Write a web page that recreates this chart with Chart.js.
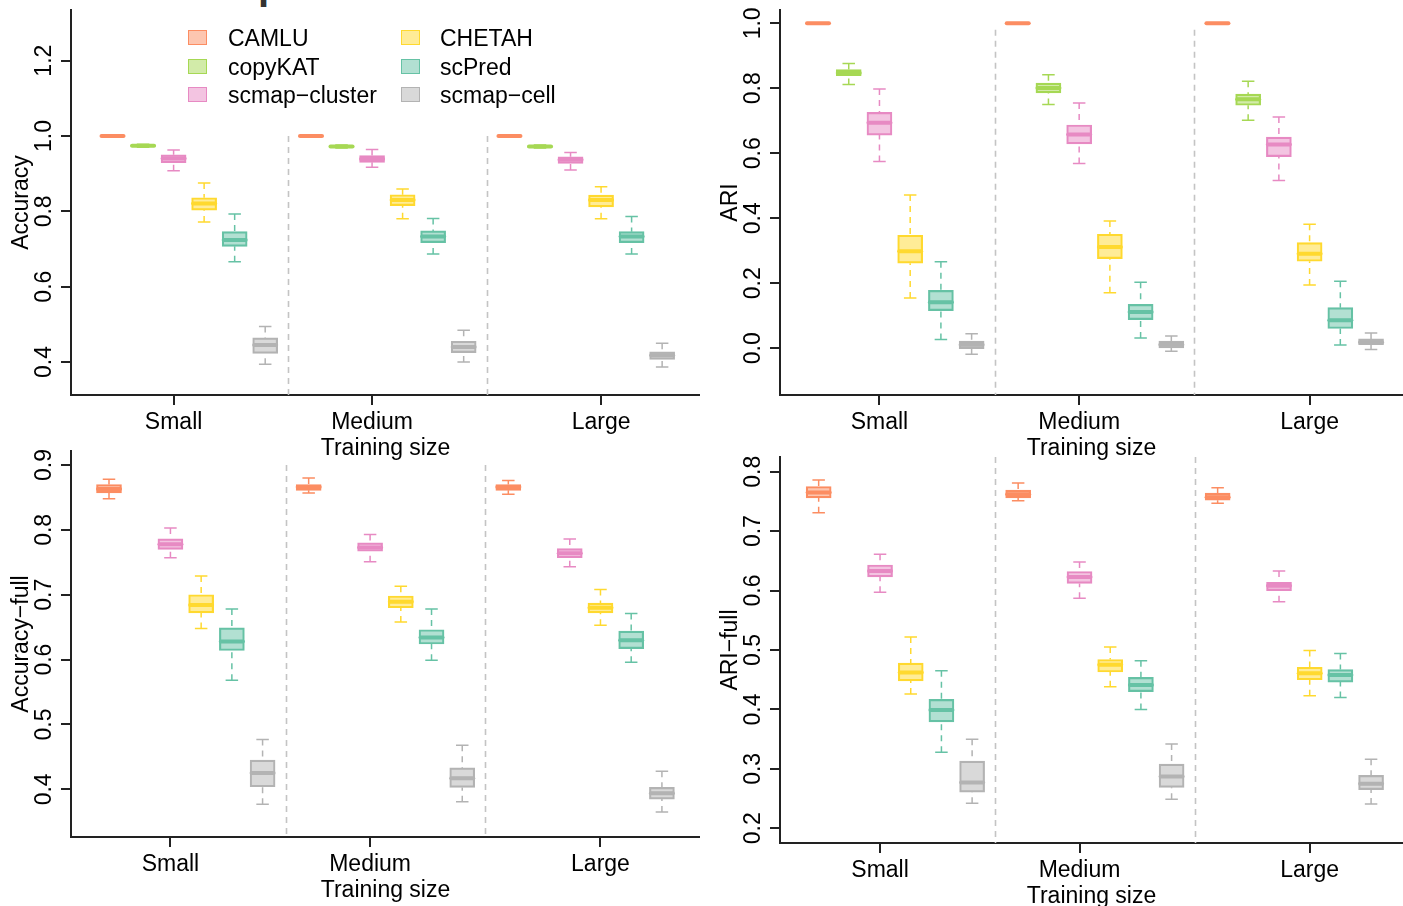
<!DOCTYPE html>
<html>
<head>
<meta charset="utf-8">
<script src="https://cdn.jsdelivr.net/npm/chart.js@4.4.1/dist/chart.umd.min.js"></script>
<style>
  html, body { margin:0; padding:0; background:#fff; overflow:hidden; width:1403px; height:906px; }
  canvas { position:absolute; }
  .lg { position:absolute; font-family:'Liberation Sans', Arial, sans-serif; font-size:23px; color:#000; line-height:28px; white-space:nowrap; }
  .sq { position:absolute; width:19px; height:15px; box-sizing:border-box; border:1.5px solid; }
  .cut { position:absolute; left:258px; top:-35px; font-family:'Liberation Sans', Arial, sans-serif; font-weight:bold; font-size:40px; line-height:40px; color:#333; }
</style>
</head>
<body>
<div class="cut">p</div>
<canvas id="c1" width="700" height="462" style="left:0px;top:0px"></canvas>
<canvas id="c2" width="694" height="462" style="left:709px;top:0px"></canvas>
<canvas id="c3" width="700" height="463" style="left:0px;top:441px"></canvas>
<canvas id="c4" width="694" height="463" style="left:709px;top:447px"></canvas>
<div id="legend"></div>
<script>
// ---------- categories ----------
const methods = ['CAMLU', 'copyKAT', 'scmap-cluster', 'CHETAH', 'scPred', 'scmap-cell'];
const sizes = ['Small', 'Medium', 'Large'];
const methodColors = ['#FC8D62', '#A6D854', '#E78AC3', '#FFD92F', '#66C2A5', '#B3B3B3'];

// ---------- tick labels ----------
const accTicks = [0.4, 0.6, 0.8, 1.0, 1.2];
const ariTicks = [0.0, 0.2, 0.4, 0.6, 0.8, 1.0];
const accFullTicks = [0.4, 0.5, 0.6, 0.7, 0.8, 0.9];
const ariFullTicks = [0.2, 0.3, 0.4, 0.5, 0.6, 0.7, 0.8];

// ---------- data: each row = [min, q1, median, q3, max] for Small, Medium, Large ----------
// Accuracy
const acc_CAMLU   = [[0.998,0.999,1.000,1.000,1.000],[0.998,0.999,1.000,1.000,1.000],[0.998,0.999,1.000,1.000,1.000]];
const acc_copyKAT = [[0.970,0.972,0.974,0.976,0.978],[0.968,0.970,0.972,0.974,0.976],[0.968,0.970,0.972,0.974,0.976]];
const acc_scmapCluster = [[0.908,0.929,0.940,0.950,0.963],[0.917,0.930,0.939,0.948,0.964],[0.910,0.927,0.937,0.945,0.956]];
const acc_CHETAH  = [[0.772,0.803,0.821,0.836,0.875],[0.780,0.815,0.830,0.844,0.859],[0.780,0.812,0.830,0.843,0.865]];
const acc_scPred  = [[0.666,0.707,0.724,0.746,0.793],[0.687,0.717,0.733,0.748,0.781],[0.687,0.717,0.733,0.746,0.786]];
const acc_scmapCell = [[0.394,0.423,0.445,0.464,0.494],[0.400,0.425,0.440,0.455,0.484],[0.387,0.407,0.418,0.427,0.450]];
// ARI
const ari_CAMLU   = [[0.998,0.999,1.000,1.000,1.000],[0.998,0.999,1.000,1.000,1.000],[0.998,0.999,1.000,1.000,1.000]];
const ari_copyKAT = [[0.812,0.839,0.847,0.858,0.876],[0.750,0.786,0.801,0.816,0.842],[0.702,0.748,0.766,0.782,0.822]];
const ari_scmapCluster = [[0.575,0.656,0.694,0.726,0.798],[0.569,0.629,0.658,0.687,0.755],[0.516,0.590,0.627,0.650,0.712]];
const ari_CHETAH  = [[0.155,0.262,0.299,0.348,0.472],[0.171,0.276,0.312,0.351,0.392],[0.195,0.268,0.291,0.325,0.382]];
const ari_scPred  = [[0.027,0.116,0.142,0.178,0.266],[0.032,0.088,0.112,0.135,0.203],[0.010,0.061,0.086,0.125,0.206]];
const ari_scmapCell = [[-0.018,-0.001,0.011,0.022,0.045],[-0.009,0.001,0.011,0.022,0.038],[-0.004,0.011,0.019,0.029,0.047]];
// Accuracy-full
const accFull_CAMLU  = [[0.848,0.857,0.863,0.870,0.878],[0.857,0.861,0.866,0.870,0.880],[0.855,0.861,0.866,0.870,0.876]];
const accFull_scmapCluster = [[0.757,0.770,0.778,0.786,0.803],[0.751,0.767,0.773,0.780,0.793],[0.743,0.757,0.764,0.771,0.786]];
const accFull_CHETAH = [[0.648,0.672,0.684,0.700,0.729],[0.658,0.680,0.689,0.698,0.713],[0.653,0.672,0.680,0.687,0.708]];
const accFull_scPred = [[0.568,0.614,0.628,0.649,0.678],[0.599,0.624,0.634,0.646,0.678],[0.596,0.617,0.630,0.644,0.671]];
const accFull_scmapCell = [[0.377,0.404,0.425,0.445,0.477],[0.381,0.403,0.417,0.433,0.468],[0.365,0.385,0.394,0.403,0.428]];
// ARI-full
const ariFull_CAMLU  = [[0.731,0.756,0.765,0.775,0.786],[0.751,0.756,0.762,0.769,0.781],[0.747,0.752,0.757,0.764,0.773]];
const ariFull_scmapCluster = [[0.597,0.623,0.633,0.643,0.661],[0.587,0.612,0.623,0.632,0.648],[0.581,0.600,0.608,0.614,0.633]];
const ariFull_CHETAH = [[0.426,0.448,0.462,0.478,0.522],[0.438,0.463,0.475,0.484,0.505],[0.423,0.450,0.461,0.471,0.499]];
const ariFull_scPred = [[0.328,0.379,0.399,0.417,0.465],[0.400,0.430,0.441,0.454,0.482],[0.420,0.446,0.458,0.467,0.494]];
const ariFull_scmapCell = [[0.242,0.261,0.277,0.313,0.350],[0.249,0.269,0.287,0.308,0.342],[0.241,0.265,0.275,0.289,0.316]];

// ---------- helpers ----------
const FONT = "'Liberation Sans', Arial, sans-serif";
Chart.defaults.font.family = FONT;
Chart.defaults.color = '#000';

function rgba(hex, a) {
  const n = parseInt(hex.slice(1), 16);
  return `rgba(${(n >> 16) & 255},${(n >> 8) & 255},${n & 255},${a})`;
}
const groupStep = 6.5;
function boxPos(g, m) { return g * groupStep + m + 1; }

const boxPlugin = {
  id: 'boxWhiskers',
  beforeDatasetsDraw(chart, args, opts) {
    const { ctx, chartArea, scales: { x, y } } = chart;
    ctx.save();
    ctx.strokeStyle = '#C4C4C4';
    ctx.lineWidth = 1.6;
    ctx.setLineDash([6, 5]);
    for (const s of opts.separators) {
      const px = Math.round(x.getPixelForValue(s)) + 0.5;
      ctx.beginPath();
      ctx.moveTo(px, y.getPixelForValue(opts.sepTop));
      ctx.lineTo(px, chartArea.bottom);
      ctx.stroke();
    }
    ctx.restore();
  },
  afterDatasetsDraw(chart) {
    const { ctx, scales: { y } } = chart;
    chart.data.datasets.forEach((ds, i) => {
      const meta = chart.getDatasetMeta(i);
      meta.data.forEach((el, j) => {
        const st = ds.stats[j];
        const [mn, q1, md, q3, mx] = st.map(v => y.getPixelForValue(v));
        const cx = el.x, w = el.width;
        ctx.save();
        ctx.strokeStyle = ds.borderColor;
        ctx.lineWidth = 1.5;
        ctx.setLineDash([6, 5]);
        ctx.beginPath();
        ctx.moveTo(cx, mx); ctx.lineTo(cx, q3);
        ctx.moveTo(cx, mn); ctx.lineTo(cx, q1);
        ctx.stroke();
        ctx.setLineDash([]);
        ctx.beginPath();
        ctx.moveTo(cx - w / 4, mx); ctx.lineTo(cx + w / 4, mx);
        ctx.moveTo(cx - w / 4, mn); ctx.lineTo(cx + w / 4, mn);
        ctx.stroke();
        ctx.lineWidth = 4;
        ctx.lineCap = 'round';
        ctx.beginPath();
        ctx.moveTo(cx - w / 2 + 1.5, md); ctx.lineTo(cx + w / 2 - 1.5, md);
        ctx.stroke();
        ctx.restore();
      });
    });
  }
};

function makePanel(id, yTitle, seriesList, yTicks, cfg) {
  const datasets = [];
  seriesList.forEach((stats, m) => {
    if (!stats) return;
    datasets.push({
      label: methods[m],
      data: stats.map((s, g) => ({ x: boxPos(g, m), y: [s[1], s[3]] })),
      stats: stats,
      backgroundColor: rgba(methodColors[m], 0.5),
      borderColor: methodColors[m],
      borderWidth: 1.5,
      borderSkipped: false,
      barThickness: 25,
      grouped: false
    });
  });
  const tickFont = { size: 23, family: FONT };
  new Chart(document.getElementById(id), {
    type: 'bar',
    data: { datasets },
    plugins: [boxPlugin],
    options: {
      responsive: false,
      animation: false,
      events: [],
      layout: { padding: { top: 10, left: 0, right: 0, bottom: 0 } },
      plugins: {
        legend: { display: false },
        tooltip: { enabled: false },
        boxWhiskers: { separators: [6.75, 13.25], sepTop: cfg.sepTop }
      },
      scales: {
        x: {
          type: 'linear', min: cfg.xMin, max: cfg.xMax, offset: false,
          afterBuildTicks: s => { s.ticks = [3, 9.5, 17].map(v => ({ value: v })); },
          afterFit: s => { s.height = 67; s.paddingLeft = 0; s.paddingRight = 0; },
          ticks: { callback: (v, i) => sizes[i], font: tickFont, color: '#000', padding: 4, autoSkip: false, maxRotation: 0, minRotation: 0 },
          grid: { drawOnChartArea: false, tickLength: 10, color: '#222', lineWidth: 2, offset: false },
          border: { display: true, color: '#222', width: 2 },
          title: { display: true, text: 'Training size', font: tickFont, color: '#000', padding: { top: 0, bottom: 0 } }
        },
        y: {
          type: 'linear', min: cfg.yMin, max: cfg.yMax,
          afterBuildTicks: s => { s.ticks = yTicks.map(v => ({ value: v })); },
          afterFit: s => { s.width = 71; s.paddingTop = 0; s.paddingBottom = 0; },
          ticks: { callback: v => Number(v).toFixed(1), font: tickFont, color: '#000', padding: 0, minRotation: 90, maxRotation: 90, crossAlign: 'center', autoSkip: false },
          grid: { drawOnChartArea: false, tickLength: 10, color: '#222', lineWidth: 2 },
          border: { display: true, color: '#222', width: 2 },
          title: { display: true, text: yTitle, font: tickFont, color: '#000', padding: { top: 8, bottom: 0 } }
        }
      }
    }
  });
}

makePanel('c1', 'Accuracy',
  [acc_CAMLU, acc_copyKAT, acc_scmapCluster, acc_CHETAH, acc_scPred, acc_scmapCell], accTicks,
  { xMin: -0.36, xMax: 20.24, yMin: 0.3124, yMax: 1.3345, sepTop: 1.0 });
makePanel('c2', 'ARI',
  [ari_CAMLU, ari_copyKAT, ari_scmapCluster, ari_CHETAH, ari_scPred, ari_scmapCell], ariTicks,
  { xMin: -0.237, xMax: 20.04, yMin: -0.1437, yMax: 1.041, sepTop: 0.98 });
makePanel('c3', 'Accuracy\u2212full',
  [accFull_CAMLU, null, accFull_scmapCluster, accFull_CHETAH, accFull_scPred, accFull_scmapCell], accFullTicks,
  { xMin: -0.237, xMax: 20.24, yMin: 0.3265, yMax: 0.9216, sepTop: 0.9 });
makePanel('c4', 'ARI\u2212full',
  [ariFull_CAMLU, null, ariFull_scmapCluster, ariFull_CHETAH, ariFull_scPred, ariFull_scmapCell], ariFullTicks,
  { xMin: -0.26, xMax: 20.04, yMin: 0.1753, yMax: 0.8247, sepTop: 0.8247 });

// ---------- legend (HTML text) ----------
const legend = document.getElementById('legend');
methods.forEach((name, m) => {
  const col = Math.floor(m / 3), row = m % 3;
  const sqX = col === 0 ? 188 : 401;
  const txX = col === 0 ? 228 : 440;
  const cy = 38 + row * 28.5;
  const sq = document.createElement('div');
  sq.className = 'sq';
  sq.style.left = sqX + 'px';
  sq.style.top = (cy - 8) + 'px';
  sq.style.background = rgba(methodColors[m], 0.5);
  sq.style.borderColor = methodColors[m];
  legend.appendChild(sq);
  const tx = document.createElement('div');
  tx.className = 'lg';
  tx.style.left = txX + 'px';
  tx.style.top = (cy - 14) + 'px';
  tx.textContent = name.replace('-', '\u2212');
  legend.appendChild(tx);
});
</script>
</body>
</html>
